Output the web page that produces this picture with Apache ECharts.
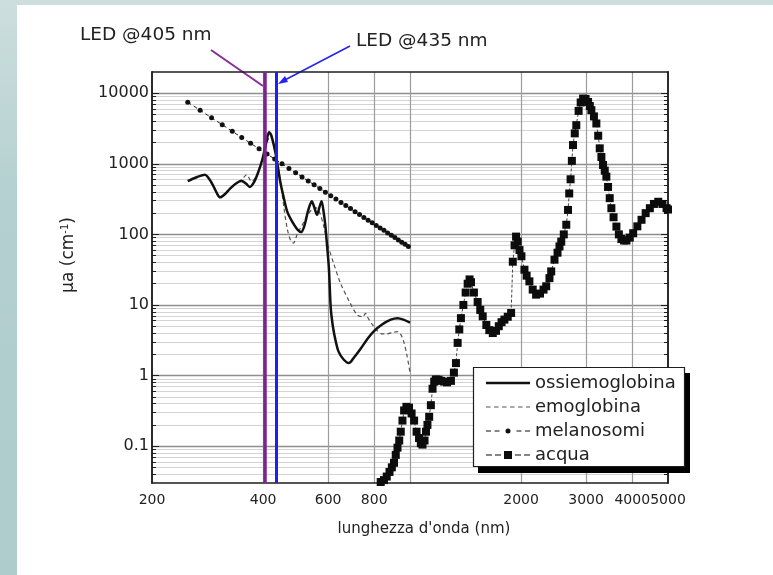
<!DOCTYPE html>
<html>
<head>
<meta charset="utf-8">
<title>Assorbimento</title>
<script src="https://cdn.jsdelivr.net/npm/echarts@6/dist/echarts.min.js"></script>
<style>
  html, body { margin: 0; padding: 0; }
  body { width: 773px; height: 575px; position: relative; overflow: hidden;
         background: linear-gradient(180deg, #cddede 0%, #b4d0d0 35%, #aecccc 100%); }
  #sheet { position: absolute; left: 17px; top: 5px; right: 0; bottom: 0; background: #fff; }
  #main { position: absolute; left: 0; top: 0; width: 773px; height: 575px; }
</style>
</head>
<body>
<div id="sheet"></div>
<div id="main"></div>
<script>
// dati (lunghezza d'onda in nm, coefficiente di assorbimento in cm^-1)
const oxyWl = [250, 265, 278, 290, 300, 306, 315, 326, 340, 350,
  360, 368, 378, 388, 398, 408, 415, 420, 428, 436,
  445, 455, 465, 480, 495, 507, 518, 530, 542, 552,
  560, 568, 576, 584, 590, 596, 603, 610, 618, 628,
  640, 660, 683, 705, 735, 770, 800, 840, 887, 925,
  960, 1000];
const oxyMu = [570, 650, 700, 540, 380, 335, 370, 450, 540, 570,
  520, 470, 550, 760, 1150, 2000, 2800, 2600, 1800, 1100,
  560, 330, 210, 150, 118, 108, 135, 220, 295, 230,
  190, 240, 295, 200, 130, 70, 33, 9, 5, 3.2,
  2.2, 1.7, 1.5, 1.8, 2.4, 3.4, 4.3, 5.3, 6.2, 6.5,
  6.2, 5.6];

const hbWl = [250, 265, 278, 290, 300, 306, 315, 326, 340, 350,
  361, 372, 385, 398, 410, 420, 428, 436, 445, 455,
  465, 475, 483, 496, 510, 525, 540, 555, 570, 585,
  597, 620, 649, 688, 720, 745, 757, 770, 790, 816,
  840, 866, 900, 925, 945, 962, 980, 1000];
const hbMu = [570, 650, 700, 540, 380, 335, 370, 450, 540, 600,
  700, 560, 700, 1100, 2000, 2600, 1800, 1100, 600, 250,
  120, 82, 75, 104, 135, 180, 220, 240, 200, 125,
  75, 40, 20, 10.7, 7.2, 6.8, 7.6, 6.5, 5.3, 4.3,
  3.9, 3.9, 4.1, 4.2, 3.8, 3.0, 2.0, 1.1];

const melWl = [250, 270, 290, 310, 330, 350, 370, 390, 410, 430,
  450, 470, 490, 510, 530, 550, 570, 590, 610, 630,
  650, 670, 690, 710, 730, 750, 770, 790, 810, 830,
  850, 870, 890, 910, 930, 950, 970, 990];
const melMu = [7460, 5740, 4490, 3580, 2890, 2360, 1950, 1630, 1375, 1170,
  1000, 861, 747, 652, 571, 504, 446, 396, 353, 316,
  284, 256, 232, 210, 191, 174, 159, 146, 134, 123,
  114, 105, 97, 90, 83.5, 77.6, 72.3, 67.4];

const waterWl = [833, 850, 865, 880, 893, 905, 915, 925, 935, 944,
  954, 964, 978, 994, 1010, 1026, 1042, 1058, 1070, 1081,
  1095, 1105, 1115, 1127, 1139, 1151, 1163, 1175, 1195, 1215,
  1237, 1260, 1291, 1315, 1332, 1346, 1360, 1374, 1395, 1415,
  1433, 1450, 1463, 1490, 1525, 1550, 1574, 1610, 1640, 1676,
  1710, 1740, 1770, 1802, 1840, 1879, 1899, 1920, 1938, 1958,
  1980, 2004, 2042, 2070, 2106, 2150, 2196, 2250, 2300, 2339,
  2387, 2413, 2463, 2510, 2541, 2569, 2610, 2651, 2680, 2700,
  2723, 2745, 2764, 2795, 2822, 2863, 2900, 2944, 2990, 3037,
  3070, 3100, 3150, 3198, 3235, 3266, 3300, 3334, 3370, 3404,
  3440, 3476, 3512, 3560, 3624, 3680, 3739, 3800, 3859, 3940,
  4024, 4130, 4239, 4350, 4465, 4580, 4705, 4830, 4955, 5000];
const waterMu = [0.031, 0.033, 0.037, 0.043, 0.05, 0.058, 0.075, 0.095, 0.12, 0.16,
  0.23, 0.32, 0.36, 0.35, 0.29, 0.23, 0.16, 0.13, 0.11, 0.105,
  0.12, 0.16, 0.2, 0.26, 0.38, 0.65, 0.82, 0.88, 0.87, 0.84,
  0.82, 0.8, 0.84, 1.1, 1.5, 2.9, 4.5, 6.5, 10, 15,
  20, 23, 21, 15, 11, 8.5, 6.9, 5.2, 4.4, 4.0,
  4.3, 5.0, 5.7, 6.2, 6.8, 7.7, 41, 70, 93, 79,
  60, 49, 31.6, 26, 21.6, 16.5, 14, 14.5, 16.5, 18.4,
  24, 29.9, 43.8, 55, 67.5, 79, 100, 137, 222, 380,
  604, 1100, 1845, 2700, 3530, 5620, 7400, 8410, 8300, 7530,
  6600, 5750, 4700, 3730, 2500, 1656, 1250, 962, 800, 658,
  470, 326, 235, 175, 129, 100, 86, 82, 82, 90,
  104, 130, 161, 200, 235, 270, 290, 270, 235, 225];

const ledWl = [405, 435];
const legendNames = ['ossiemoglobina', 'emoglobina', 'melanosomi', 'acqua'];

// tacche e griglia
const xLabelVals = [200, 400, 600, 800, 2000, 3000, 4000, 5000];
const xGridVals = [400, 600, 800, 1000, 2000, 3000, 4000];
const yMajorVals = [0.1, 1, 10, 100, 1000, 10000];
const yMinorVals = [0.04, 0.05, 0.06, 0.07, 0.08, 0.09,
  0.2, 0.3, 0.4, 0.5, 0.6, 0.7, 0.8, 0.9,
  2, 3, 4, 5, 6, 7, 8, 9,
  20, 30, 40, 50, 60, 70, 80, 90,
  200, 300, 400, 500, 600, 700, 800, 900,
  2000, 3000, 4000, 5000, 6000, 7000, 8000, 9000];

const FONT = 'DejaVu Sans';
const FRAME = '#1e1e1e';

// icone della legenda disegnate in un riquadro 44x14 (i due puntini agli angoli fissano il riquadro)
const BOX = 'M0,0h0.1v0.1h-0.1zM43.9,13.9h0.1v0.1h-0.1z';
const legendIcons = {
  ossiemoglobina: 'path://' + BOX + 'M0,5.8h44v2.4h-44z',
  emoglobina: 'path://' + BOX + 'M0,6.5h4.5v1h-4.5zM8,6.5h4.5v1h-4.5zM16,6.5h4.5v1h-4.5zM24,6.5h4.5v1h-4.5zM32,6.5h4.5v1h-4.5zM40,6.5h4v1h-4z',
  melanosomi: 'path://' + BOX + 'M0,6.4h5v1.2h-5zM8.5,6.4h5v1.2h-5zM30.5,6.4h5v1.2h-5zM39,6.4h5v1.2h-5zM19.5,7a2.5,2.5 0 1,0 5,0a2.5,2.5 0 1,0 -5,0z',
  acqua: 'path://' + BOX + 'M0,6.5h6v1h-6zM9,6.5h6v1h-6zM29,6.5h6v1h-6zM38,6.5h6v1h-6zM18,3h8v8h-8z',
};

const pair = (xs, ys) => xs.map((x, i) => [x, ys[i]]);

const yAxisBase = (position, ticks, len, grid) => ({
  type: 'log',
  logBase: 10,
  min: 0.03,
  max: 20000,
  position,
  axisLine: { show: true, onZero: false, lineStyle: { color: FRAME, width: 1.5 } },
  axisTick: { show: true, inside: true, length: len, customValues: ticks, lineStyle: { color: FRAME, width: 1 } },
  axisLabel: { show: false },
  splitLine: grid ? { show: true, lineStyle: grid } : { show: false },
  minorTick: { show: false },
  minorSplitLine: { show: false },
});

const chart = echarts.init(document.getElementById('main'));

const yLeft = yAxisBase('left', yMajorVals, 7, { color: '#8e8e8e', width: 1.3 });
yLeft.axisLabel = {
  show: true,
  customValues: yMajorVals,
  formatter: (v) => String(v),
  fontFamily: FONT,
  fontSize: 16,
  color: '#222',
  margin: 3,
};

const option = {
  backgroundColor: 'transparent',
  animation: false,
  grid: { left: 152, right: 105, top: 72, bottom: 92, outerBoundsMode: 'none' },
  xAxis: [
    {
      type: 'log',
      logBase: 10,
      min: 200,
      max: 5000,
      position: 'bottom',
      axisLine: { show: true, onZero: false, lineStyle: { color: FRAME, width: 1.5 } },
      axisTick: { show: false, customValues: xGridVals },
      axisLabel: {
        customValues: xLabelVals,
        formatter: (v) => String(v),
        fontFamily: FONT,
        fontSize: 14,
        color: '#222',
        margin: 10,
      },
      splitLine: { show: true, lineStyle: { color: '#9c9c9c', width: 1.2 } },
      minorTick: { show: false },
      name: "lunghezza d'onda (nm)",
      nameLocation: 'middle',
      nameGap: 39,
      nameTextStyle: { fontFamily: FONT, fontSize: 15, color: '#222', padding: [0, 0, 0, 28] },
    },
    {
      type: 'log',
      logBase: 10,
      min: 200,
      max: 5000,
      position: 'top',
      axisLine: { show: true, onZero: false, lineStyle: { color: FRAME, width: 1.5 } },
      axisTick: { show: false },
      axisLabel: { show: false },
      splitLine: { show: false },
    },
  ],
  yAxis: [
    yLeft,
    yAxisBase('left', yMinorVals, 4, { color: '#d3d3d3', width: 1 }),
    yAxisBase('right', yMajorVals, 7, null),
    yAxisBase('right', yMinorVals, 4, null),
  ],
  legend: {
    data: legendNames.map((name) => ({ name, icon: legendIcons[name], itemStyle: { borderWidth: 0 } })),
    orient: 'vertical',
    left: 473,
    top: 367,
    z: 11,
    itemWidth: 44,
    itemHeight: 14,
    itemGap: 6,
    padding: [7, 10, 4, 13],
    backgroundColor: 'transparent',
    borderWidth: 0,
    selectedMode: false,
    textStyle: { fontFamily: FONT, fontSize: 18, color: '#222' },
  },
  graphic: [
    {
      type: 'rect', z: 10, silent: true,
      shape: { x: 478, y: 373, width: 212, height: 100 },
      style: { fill: '#000' },
    },
    {
      type: 'rect', z: 10, silent: true,
      shape: { x: 473.5, y: 367.5, width: 211, height: 99 },
      style: { fill: '#fff', stroke: FRAME, lineWidth: 1.2 },
    },
    {
      type: 'text', left: 80, top: 26, silent: true,
      style: { text: 'LED @405 nm', font: '18.5px "DejaVu Sans"', fill: '#222' },
    },
    {
      type: 'text', left: 356, top: 32, silent: true,
      style: { text: 'LED @435 nm', font: '18.5px "DejaVu Sans"', fill: '#222' },
    },
    {
      type: 'line', silent: true,
      shape: { x1: 211, y1: 50, x2: 263, y2: 86 },
      style: { stroke: '#8a2a9c', lineWidth: 2 },
    },
    {
      type: 'line', silent: true,
      shape: { x1: 350, y1: 46, x2: 281, y2: 82 },
      style: { stroke: '#2424f0', lineWidth: 1.5 },
    },
    {
      type: 'polygon', silent: true,
      shape: { points: [[278, 84], [288, 82], [285, 76]] },
      style: { fill: '#2424f0' },
    },
    {
      type: 'text', x: 69, y: 255, rotation: Math.PI / 2, silent: true,
      style: {
        text: 'μa (cm{s|-1})',
        font: '17px "DejaVu Sans"',
        fill: '#222',
        align: 'center',
        verticalAlign: 'middle',
        rich: { s: { fontSize: 10, fontFamily: FONT, verticalAlign: 'top', padding: [0, 0, 8, 0] } },
      },
    },
  ],
  series: [
    {
      name: 'ossiemoglobina',
      type: 'line',
      data: pair(oxyWl, oxyMu),
      smooth: 0.3,
      showSymbol: false,
      symbol: 'none',
      lineStyle: { color: '#111', width: 2.5 },
      itemStyle: { color: '#111' },
      z: 4,
    },
    {
      name: 'emoglobina',
      type: 'line',
      data: pair(hbWl, hbMu),
      smooth: 0.3,
      showSymbol: false,
      symbol: 'none',
      lineStyle: { color: '#555', width: 1.2, type: [4, 3] },
      itemStyle: { color: '#555' },
      z: 3,
    },
    {
      name: 'melanosomi',
      type: 'line',
      data: pair(melWl, melMu),
      symbol: 'circle',
      symbolSize: 5,
      lineStyle: { color: '#222', width: 1, type: [4, 3] },
      itemStyle: { color: '#111' },
      z: 3,
    },
    {
      name: 'acqua',
      type: 'line',
      data: pair(waterWl, waterMu),
      symbol: 'rect',
      symbolSize: 8,
      lineStyle: { color: '#444', width: 1, type: [3, 2] },
      itemStyle: { color: '#0c0c0c' },
      z: 3,
    },
    {
      name: 'LED',
      type: 'line',
      data: [],
      z: 6,
      markLine: {
        silent: true,
        symbol: 'none',
        label: { show: false },
        animation: false,
        data: [
          { xAxis: ledWl[0], lineStyle: { color: '#7e2290', width: 3.5, type: 'solid' } },
          { xAxis: ledWl[1], lineStyle: { color: '#1e1ef5', width: 3, type: 'solid' } },
        ],
      },
    },
  ],
};

chart.setOption(option);
</script>
</body>
</html>
